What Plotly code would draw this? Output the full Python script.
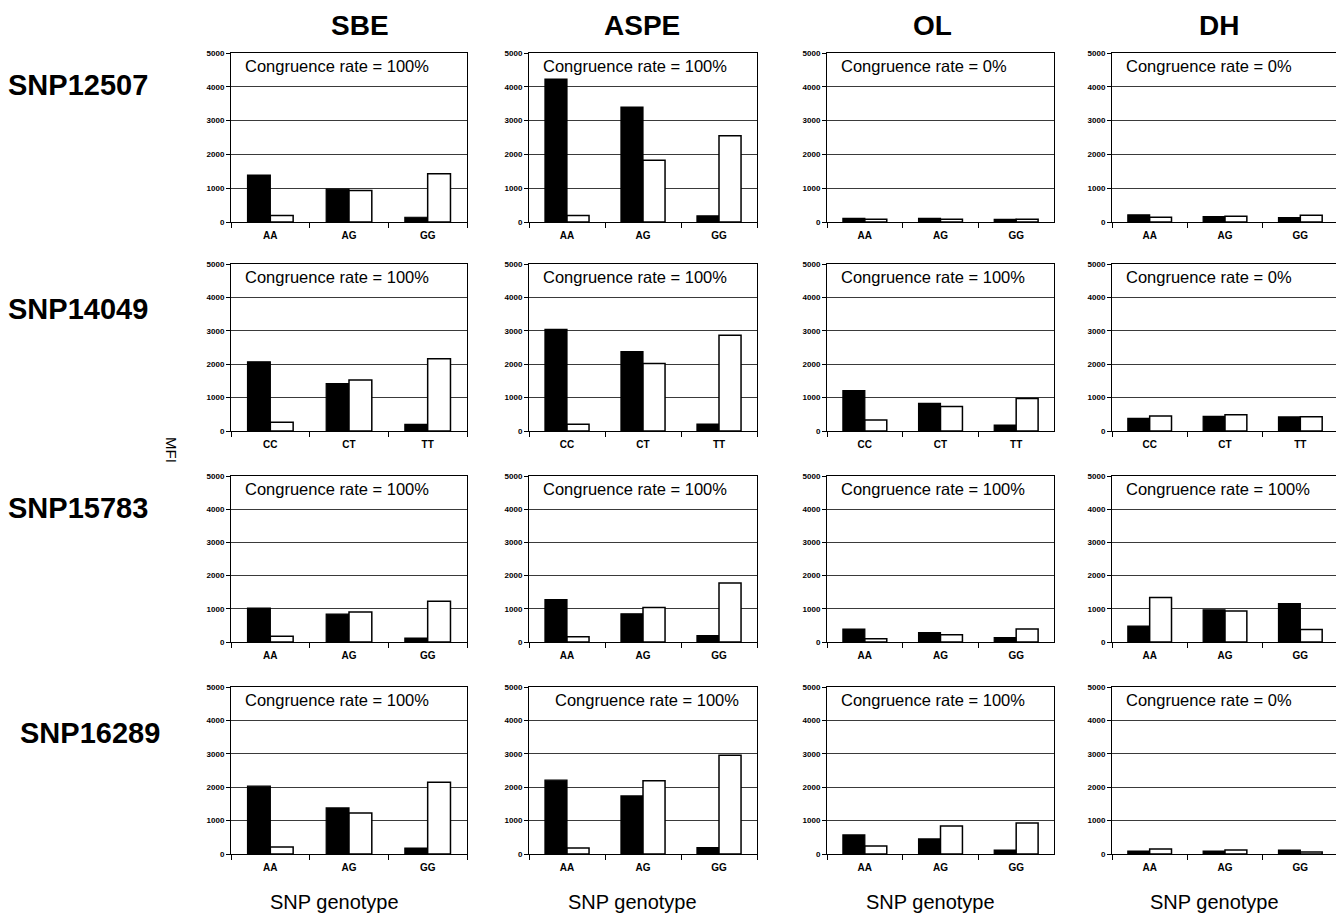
import plotly.graph_objects as go

# ---------------- data ----------------
methods = ["SBE", "ASPE", "OL", "DH"]
snps = ["SNP12507", "SNP14049", "SNP15783", "SNP16289"]
genotypes = [["AA", "AG", "GG"], ["CC", "CT", "TT"], ["AA", "AG", "GG"], ["AA", "AG", "GG"]]

# MFI of first allele probe (black bars), per method [SBE, ASPE, OL, DH]
snp12507_black = [[1390, 970, 140], [4230, 3400, 180], [110, 110, 80], [210, 160, 130]]
snp14049_black = [[2070, 1420, 200], [3040, 2380, 210], [1210, 830, 180], [380, 440, 420]]
snp15783_black = [[1020, 840, 120], [1280, 850, 190], [390, 280, 130], [480, 970, 1160]]
snp16289_black = [[2030, 1380, 180], [2210, 1740, 190], [570, 450, 120], [90, 90, 120]]

# MFI of second allele probe (white bars)
snp12507_white = [[190, 930, 1430], [190, 1830, 2550], [80, 80, 80], [140, 170, 200]]
snp14049_white = [[260, 1530, 2160], [200, 2020, 2870], [330, 730, 970], [450, 490, 430]]
snp15783_white = [[170, 900, 1230], [160, 1040, 1780], [100, 220, 390], [1340, 930, 380]]
snp16289_white = [[210, 1230, 2150], [180, 2190, 2960], [240, 840, 930], [150, 120, 60]]

congruence = [[100, 100, 0, 0], [100, 100, 100, 0], [100, 100, 100, 100], [100, 100, 100, 0]]

black_all = [snp12507_black, snp14049_black, snp15783_black, snp16289_black]
white_all = [snp12507_white, snp14049_white, snp15783_white, snp16289_white]

y_ticks = [0, 1000, 2000, 3000, 4000, 5000]

# ---------------- layout geometry (viewport pixels) ----------------
OFF = 8                      # default body margin of the page
W, H = 1344 - OFF, 914 - OFF  # figure size so it fills the viewport
col_px = [(231, 467), (529, 757), (827, 1054), (1112, 1338)]
row_px = [(53, 222), (264, 431), (476, 642), (687, 854)]
title_x_px = [360, 642, 933, 1219]
xlabel_x_px = [334, 632, 930, 1214]
rowlabel_px = [(78, 85), (78, 309), (78, 508), (90, 733)]
cong_offset = [[12, 12, 12, 12], [12, 12, 12, 12], [12, 12, 12, 12], [12, 24, 12, 12]]

FONT = "Liberation Sans, Arial, sans-serif"

def px_x(x):
    return (x - OFF) / W

def px_y(y):
    return 1 - (y - OFF) / H

fig = go.Figure()
layout = dict(
    width=W, height=H,
    margin=dict(l=0, r=0, t=0, b=0, autoexpand=False),
    paper_bgcolor="white", plot_bgcolor="white",
    showlegend=False,
    barmode="group", bargap=0.42, bargroupgap=0,
    font=dict(family=FONT, color="black"),
)
annotations = []

for r in range(4):
    for c in range(4):
        idx = r * 4 + c + 1
        xa = "x" if idx == 1 else f"x{idx}"
        ya = "y" if idx == 1 else f"y{idx}"
        cats = genotypes[r]
        fig.add_trace(go.Bar(
            x=cats, y=black_all[r][c], xaxis=xa, yaxis=ya,
            marker=dict(color="black", line=dict(color="black", width=1.2)),
            offsetgroup="a", hoverinfo="x+y",
        ))
        fig.add_trace(go.Bar(
            x=cats, y=white_all[r][c], xaxis=xa, yaxis=ya,
            marker=dict(color="white", line=dict(color="black", width=1.5)),
            offsetgroup="b", hoverinfo="x+y",
        ))
        x0, x1 = col_px[c]
        y0, y1 = row_px[r]
        layout["xaxis" + ("" if idx == 1 else str(idx))] = dict(
            domain=[px_x(x0), px_x(x1)], anchor=ya, automargin=False,
            type="category", categoryorder="array", categoryarray=cats,
            showline=True, linecolor="black", linewidth=1, mirror=True,
            ticks="outside", tickson="boundaries", ticklen=5, tickcolor="black",
            ticklabelstandoff=4,
            tickfont=dict(size=10, family=FONT, weight="bold"),
            showgrid=False, zeroline=False, fixedrange=True,
        )
        layout["yaxis" + ("" if idx == 1 else str(idx))] = dict(
            domain=[px_y(y1), px_y(y0)], anchor=xa, automargin=False,
            range=[0, 5000], tickvals=y_ticks,
            showline=True, linecolor="black", linewidth=1, mirror=True,
            ticks="outside", ticklen=4, tickcolor="black",
            tickfont=dict(size=8, family=FONT, weight="bold"),
            showgrid=True, gridcolor="#3a3a3a", gridwidth=1,
            zeroline=False, fixedrange=True,
        )
        annotations.append(dict(
            text=f"Congruence rate = {congruence[r][c]}%",
            xref="paper", yref="paper",
            x=px_x(x0 + cong_offset[r][c]), y=px_y(y0 + 13),
            xanchor="left", yanchor="middle", showarrow=False,
            font=dict(size=16.5, family=FONT, color="black"),
        ))

# column titles and x-axis titles
for c, m in enumerate(methods):
    annotations.append(dict(
        text=m, xref="paper", yref="paper",
        x=px_x(title_x_px[c]), y=1.0,
        xanchor="center", yanchor="top", showarrow=False,
        font=dict(size=28, family=FONT, weight="bold", color="black"),
    ))
    annotations.append(dict(
        text="SNP genotype", xref="paper", yref="paper",
        x=px_x(xlabel_x_px[c]), y=px_y(902),
        xanchor="center", yanchor="middle", showarrow=False,
        font=dict(size=20, family=FONT, color="black"),
    ))

# row labels
for r, s in enumerate(snps):
    xx, yy = rowlabel_px[r]
    annotations.append(dict(
        text=s, xref="paper", yref="paper",
        x=px_x(xx), y=px_y(yy),
        xanchor="center", yanchor="middle", showarrow=False,
        font=dict(size=29, family=FONT, weight="bold", color="black"),
    ))

# y-axis label
annotations.append(dict(
    text="MFI", xref="paper", yref="paper",
    x=px_x(172), y=px_y(450), textangle=90,
    xanchor="center", yanchor="middle", showarrow=False,
    font=dict(size=15, family=FONT, color="black"),
))

layout["annotations"] = annotations
fig.update_layout(**layout)
fig.write_html("out.html")
